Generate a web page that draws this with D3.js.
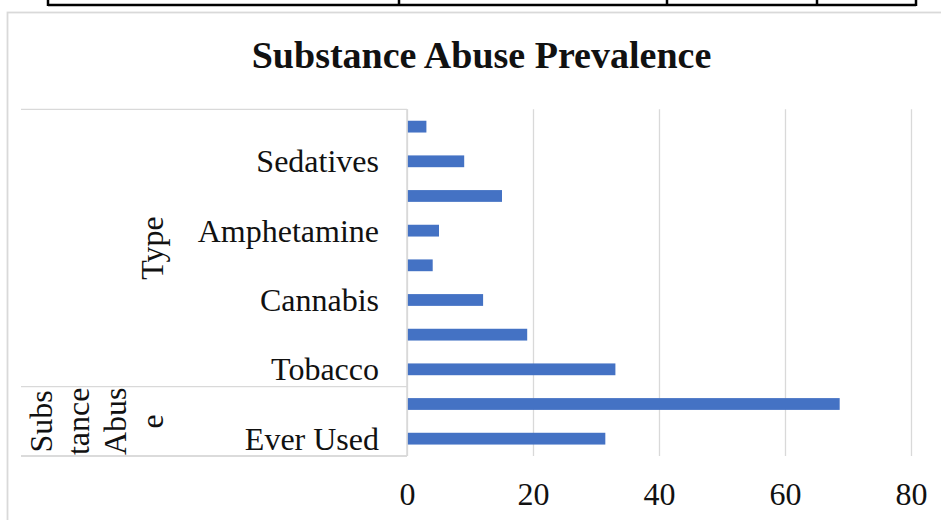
<!DOCTYPE html>
<html lang="en">
<head>
<meta charset="utf-8">
<title>Substance Abuse Prevalence</title>
<style>
  body { margin: 0; background: #fff; }
  svg text { font-family: "Liberation Serif", "Times New Roman", serif; fill: #111; }
</style>
<script src="https://cdn.jsdelivr.net/npm/d3@7"></script>
</head>
<body>
<svg id="chart" width="941" height="520"></svg>
<script>
// categories from bottom to top; Excel skipped every other label, those are left blank
var categories = ["Ever Used", "", "Tobacco", "", "Cannabis", "", "Amphetamine", "", "Sedatives", ""];
var values = [31.4, 68.6, 33, 19, 12, 4, 5, 15, 9, 3];
var groupNames = ["Substance Abuse", "Type"];
var groupLines = [["Subs", "tance", "Abus", "e"], ["Type"]];
var groupStart = [0, 2];
var groupEnd = [1, 9];
var xTicks = [0, 20, 40, 60, 80];

var svg = d3.select("#chart");

// bit of the table above the chart
var tableCols = [48, 399, 667, 817, 916];
svg.append("line")
  .attr("x1", 48).attr("x2", 916).attr("y1", 5).attr("y2", 5)
  .attr("stroke", "#000").attr("stroke-width", 2.5);
svg.selectAll(".tcol").data(tableCols).enter().append("line")
  .attr("x1", function(d){ return d; }).attr("x2", function(d){ return d; })
  .attr("y1", 0).attr("y2", 6)
  .attr("stroke", "#000").attr("stroke-width", 2.5);

// chart frame
svg.append("rect")
  .attr("x", 7.5).attr("y", 12.5).attr("width", 960).attr("height", 540)
  .attr("fill", "#fff").attr("stroke", "#d9d9d9").attr("stroke-width", 1.8);

svg.append("text")
  .attr("x", 481.5).attr("y", 68)
  .attr("text-anchor", "middle")
  .attr("font-size", 38).attr("font-weight", "bold")
  .text("Substance Abuse Prevalence");

var plotL = 407, plotR = 911, plotT = 109.3, plotB = 456;

var x = d3.scaleLinear().domain([0, 80]).range([plotL, plotR]);
var y = d3.scaleBand()
  .domain(d3.range(categories.length))
  .range([plotB, plotT])
  .paddingInner(0.66).paddingOuter(0.33);

// gridlines
svg.append("g")
  .attr("transform", "translate(0," + plotB + ")")
  .call(d3.axisBottom(x).tickValues(xTicks).tickSize(-(plotB - plotT)).tickFormat(""))
  .call(function(g){
    g.select(".domain").remove();
    g.selectAll("line").attr("stroke", "#d9d9d9").attr("stroke-width", 1.3);
  });

// value labels
svg.append("g")
  .attr("transform", "translate(0," + plotB + ")")
  .call(d3.axisBottom(x).tickValues(xTicks).tickSize(0))
  .call(function(g){
    g.select(".domain").remove();
    g.selectAll("text")
      .attr("y", 49).attr("dy", 0)
      .attr("font-size", 32)
      .attr("font-family", "Liberation Serif, Times New Roman, serif")
      .attr("fill", "#111");
  });

// bars
svg.selectAll(".bar").data(values).enter().append("rect")
  .attr("class", "bar")
  .attr("x", x(0) + 0.5)
  .attr("y", function(d, i){ return y(i); })
  .attr("width", function(d){ return x(d) - x(0); })
  .attr("height", y.bandwidth())
  .attr("fill", "#4472c4");

// category axis line
svg.append("line")
  .attr("x1", plotL).attr("x2", plotL).attr("y1", plotT).attr("y2", plotB)
  .attr("stroke", "#d9d9d9").attr("stroke-width", 1.5);

// group separators
var step = y.step();
var seps = [plotT, plotB];
groupStart.forEach(function(s){ seps.push(y(s) + y.bandwidth() + step * 0.33); });
svg.selectAll(".sep").data(seps).enter().append("line")
  .attr("x1", 21).attr("x2", plotL).attr("y1", function(d){ return d; }).attr("y2", function(d){ return d; })
  .attr("stroke", "#d9d9d9").attr("stroke-width", 1.3);

// category labels
svg.selectAll(".cat").data(categories).enter().append("text")
  .attr("class", "cat")
  .attr("x", 379)
  .attr("y", function(d, i){ return y(i) + y.bandwidth() / 2 + 11; })
  .attr("text-anchor", "end")
  .attr("font-size", 32)
  .text(function(d){ return d; });

// group labels, rotated and wrapped like Excel does
groupNames.forEach(function(name, gi){
  var yTop = y(groupEnd[gi]) - step * 0.33;
  var yBot = y(groupStart[gi]) + y.bandwidth() + step * 0.33;
  var cy = (yTop + yBot) / 2;
  var lines = groupLines[gi];
  lines.forEach(function(line, li){
    var bx = 163 - (lines.length - 1 - li) * 37;
    svg.append("text")
      .attr("transform", "translate(" + bx + "," + cy + ") rotate(-90)")
      .attr("text-anchor", "middle")
      .attr("font-size", 32)
      .text(line);
  });
});
</script>
</body>
</html>
